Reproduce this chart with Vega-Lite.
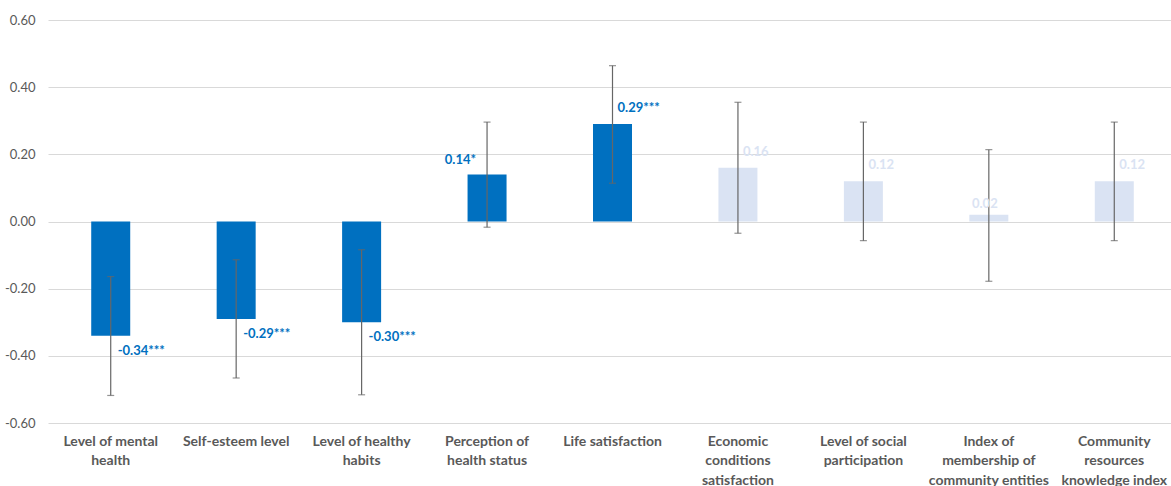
{
  "$schema": "https://vega.github.io/schema/vega-lite/v6.json",
  "width": 1129,
  "height": 403,
  "padding": {"left": 48, "top": 20, "right": 0, "bottom": 63},
  "autosize": {"type": "none"},
  "background": "white",
  "config": {"view": {"stroke": null}, "font": "Lato"},
  "data": {
    "values": [
      {"category": "Level of mental health", "value": -0.34, "lo": -0.518, "hi": -0.164, "stars": "***"},
      {"category": "Self-esteem level", "value": -0.29, "lo": -0.466, "hi": -0.114, "stars": "***"},
      {"category": "Level of healthy habits", "value": -0.30, "lo": -0.516, "hi": -0.084, "stars": "***"},
      {"category": "Perception of health status", "value": 0.14, "lo": -0.017, "hi": 0.296, "stars": "*"},
      {"category": "Life satisfaction", "value": 0.29, "lo": 0.114, "hi": 0.464, "stars": "***"},
      {"category": "Economic conditions satisfaction", "value": 0.16, "lo": -0.035, "hi": 0.355, "stars": ""},
      {"category": "Level of social participation", "value": 0.12, "lo": -0.057, "hi": 0.296, "stars": ""},
      {"category": "Index of membership of community entities", "value": 0.02, "lo": -0.178, "hi": 0.214, "stars": ""},
      {"category": "Community resources knowledge index", "value": 0.12, "lo": -0.057, "hi": 0.296, "stars": ""}
    ]
  },
  "transform": [
    {"calculate": "replace(format(datum.value, '.2f'), '\u2212', '-') + datum.stars", "as": "label"}
  ],
  "encoding": {
    "x": {
      "field": "category",
      "type": "nominal",
      "sort": null,
      "scale": {"paddingInner": 0, "paddingOuter": 0},
      "axis": {
        "title": null,
        "domain": false,
        "ticks": false,
        "grid": false,
        "labelAngle": 0,
        "labelFont": "Lato",
        "labelFontWeight": "bold",
        "labelFontSize": 14,
        "labelColor": "#595959",
        "labelBaseline": "top",
        "labelPadding": 11,
        "labelLineHeight": 19.5,
        "labelExpr": "datum.value == 'Level of mental health' ? ['Level of mental', 'health'] : datum.value == 'Level of healthy habits' ? ['Level of healthy', 'habits'] : datum.value == 'Perception of health status' ? ['Perception of', 'health status'] : datum.value == 'Economic conditions satisfaction' ? ['Economic', 'conditions', 'satisfaction'] : datum.value == 'Level of social participation' ? ['Level of social', 'participation'] : datum.value == 'Index of membership of community entities' ? ['Index of', 'membership of', 'community entities'] : datum.value == 'Community resources knowledge index' ? ['Community', 'resources', 'knowledge index'] : datum.value"
      }
    }
  },
  "layer": [
    {
      "mark": {"type": "bar", "size": 39},
      "encoding": {
        "y": {
          "field": "value",
          "type": "quantitative",
          "scale": {"domain": [-0.6, 0.6], "nice": false},
          "axis": {
            "title": null,
            "values": [-0.6, -0.4, -0.2, 0, 0.2, 0.4, 0.6],
            "labelExpr": "replace(format(datum.value, '.2f'), '\u2212', '-')",
            "domain": false,
            "ticks": false,
            "grid": true,
            "gridColor": "#D9D9D9",
            "gridWidth": 1.2,
            "labelFont": "Lato",
            "labelFontSize": 13,
            "labelColor": "#595959",
            "labelPadding": 13
          }
        },
        "color": {"condition": {"test": "datum.stars != ''", "value": "#0070C0"}, "value": "#DAE3F3"}
      }
    },
    {
      "mark": {"type": "rule", "color": "#666666", "strokeWidth": 1.2},
      "encoding": {
        "y": {"field": "lo", "type": "quantitative"},
        "y2": {"field": "hi"}
      }
    },
    {
      "mark": {"type": "tick", "color": "#666666", "size": 7, "thickness": 1.2, "orient": "horizontal"},
      "encoding": {"y": {"field": "lo", "type": "quantitative"}}
    },
    {
      "mark": {"type": "tick", "color": "#666666", "size": 7, "thickness": 1.2, "orient": "horizontal"},
      "encoding": {"y": {"field": "hi", "type": "quantitative"}}
    },
    {
      "transform": [{"filter": "datum.value < 0"}],
      "mark": {"type": "text", "align": "left", "baseline": "middle", "dx": 7, "dy": 15, "fontWeight": "bold", "fontSize": 13},
      "encoding": {
        "y": {"field": "value", "type": "quantitative"},
        "text": {"field": "label"},
        "color": {"condition": {"test": "datum.stars != ''", "value": "#0070C0"}, "value": "#DAE3F3"}
      }
    },
    {
      "transform": [{"filter": "datum.value > 0 && datum.category != 'Perception of health status' && datum.category != 'Index of membership of community entities'"}],
      "mark": {"type": "text", "align": "left", "baseline": "middle", "dx": 5, "dy": -16, "fontWeight": "bold", "fontSize": 13},
      "encoding": {
        "y": {"field": "value", "type": "quantitative"},
        "text": {"field": "label"},
        "color": {"condition": {"test": "datum.stars != ''", "value": "#0070C0"}, "value": "#DAE3F3"}
      }
    },
    {
      "transform": [{"filter": "datum.category == 'Perception of health status'"}],
      "mark": {"type": "text", "align": "right", "baseline": "middle", "dx": -11, "dy": -14, "fontWeight": "bold", "fontSize": 13},
      "encoding": {
        "y": {"field": "value", "type": "quantitative"},
        "text": {"field": "label"},
        "color": {"condition": {"test": "datum.stars != ''", "value": "#0070C0"}, "value": "#DAE3F3"}
      }
    },
    {
      "transform": [{"filter": "datum.category == 'Index of membership of community entities'"}],
      "mark": {"type": "text", "align": "center", "baseline": "middle", "dx": -4, "dy": -11, "fontWeight": "bold", "fontSize": 13},
      "encoding": {
        "y": {"field": "value", "type": "quantitative"},
        "text": {"field": "label"},
        "color": {"condition": {"test": "datum.stars != ''", "value": "#0070C0"}, "value": "#DAE3F3"}
      }
    }
  ]
}
